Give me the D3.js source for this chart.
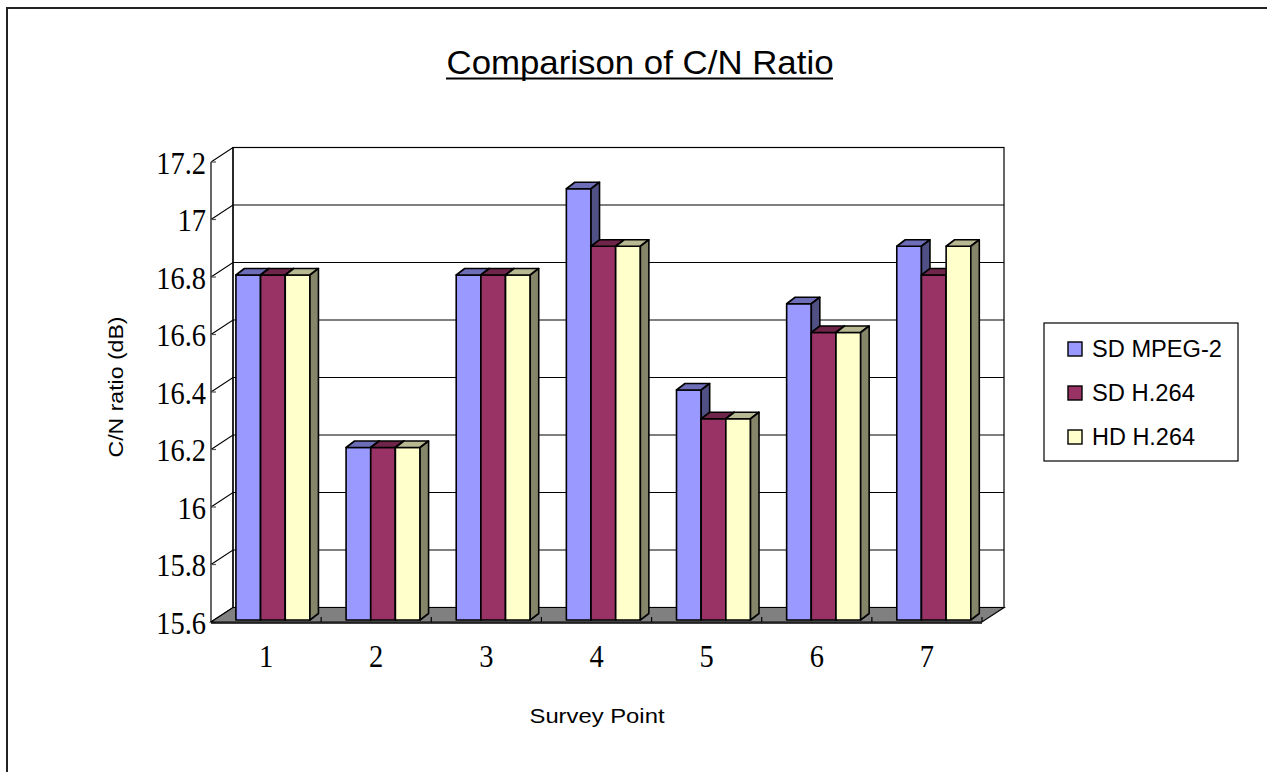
<!DOCTYPE html>
<html>
<head>
<meta charset="utf-8">
<script src="https://cdn.jsdelivr.net/npm/d3@7"></script>
<style>
  html, body { margin: 0; padding: 0; background: #fff; }
  svg { display: block; }
</style>
</head>
<body>
<svg id="chart" width="1267" height="772"></svg>
<script>
// Survey data: C/N ratio (dB) per survey point for each encoding
const categories = ["1", "2", "3", "4", "5", "6", "7"];
const seriesNames = ["SD MPEG-2", "SD H.264", "HD H.264"];
const sdMpeg2 = [16.8, 16.2, 16.8, 17.1, 16.4, 16.7, 16.9];
const sdH264  = [16.8, 16.2, 16.8, 16.9, 16.3, 16.6, 16.8];
const hdH264  = [16.8, 16.2, 16.8, 16.9, 16.3, 16.6, 16.9];
const yTickValues = [15.6, 15.8, 16, 16.2, 16.4, 16.6, 16.8, 17, 17.2];
const yTickLabels = ["15.6", "15.8", "16", "16.2", "16.4", "16.6", "16.8", "17", "17.2"];
const seriesColors = ["#9999FF", "#993366", "#FFFFCC"];

const seriesValues = [sdMpeg2, sdH264, hdH264];

const svg = d3.select("#chart");
const sans = "'Liberation Sans', Arial, sans-serif";
const serif = "'Liberation Serif', 'Times New Roman', serif";

// Narrow serif labels: tall glyphs squeezed horizontally
function condense(sel, k) {
  sel.each(function () {
    const w = this.getComputedTextLength();
    d3.select(this).attr("textLength", w * k).attr("lengthAdjust", "spacingAndGlyphs");
  });
}

// Outer chart-area frame (top and left edges)
svg.append("path")
  .attr("d", "M7,772 L7,8 L1267,8")
  .attr("fill", "none").attr("stroke", "#222").attr("stroke-width", 2);

// Title
svg.append("text")
  .attr("x", 640).attr("y", 74)
  .attr("text-anchor", "middle")
  .attr("font-family", sans).attr("font-size", 33)
  .attr("textLength", 387).attr("lengthAdjust", "spacingAndGlyphs")
  .text("Comparison of C/N Ratio");
svg.append("line")
  .attr("x1", 446).attr("x2", 833).attr("y1", 78.5).attr("y2", 78.5)
  .attr("stroke", "#000").attr("stroke-width", 2);

// 3D projection: front plane plus a depth offset toward the back wall
const frontLeft = 211, frontRight = 982;
const depth = { x: 22, y: -14.5 };

const y = d3.scaleLinear().domain([15.6, 17.2]).range([622, 162]);
const x0 = d3.scaleBand().domain(categories).range([frontLeft, frontRight]);
const band = x0.bandwidth();
const groupOffset = band * 0.19;
const groupWidth = band * 0.672;
const x1 = d3.scaleBand().domain(seriesNames).range([0, groupWidth]);

const baseY = y(15.6), topY = y(17.2);
const pt = (px, py) => `${px},${py}`;

// Left side wall (white)
svg.append("polygon")
  .attr("points", [pt(frontLeft, topY), pt(frontLeft + depth.x, topY + depth.y),
                   pt(frontLeft + depth.x, baseY + depth.y), pt(frontLeft, baseY)].join(" "))
  .attr("fill", "#fff").attr("stroke", "none");

// Back wall
svg.append("rect")
  .attr("x", frontLeft + depth.x).attr("y", topY + depth.y)
  .attr("width", frontRight - frontLeft).attr("height", baseY - topY)
  .attr("fill", "#fff").attr("stroke", "#000").attr("stroke-width", 1.2);

// Gridlines: diagonal on side wall + horizontal across back wall
const grid = svg.append("g").attr("stroke", "#000").attr("stroke-width", 1.1).attr("fill", "none");
yTickValues.forEach(v => {
  const yy = y(v);
  grid.append("path")
    .attr("d", `M${frontLeft},${yy} L${frontLeft + depth.x},${yy + depth.y} L${frontRight + depth.x},${yy + depth.y}`);
});

// Front value axis line and tick marks
svg.append("line")
  .attr("x1", frontLeft).attr("x2", frontLeft).attr("y1", topY).attr("y2", baseY)
  .attr("stroke", "#000").attr("stroke-width", 1.2);
svg.append("line")
  .attr("x1", frontLeft + depth.x).attr("x2", frontLeft + depth.x)
  .attr("y1", topY + depth.y).attr("y2", baseY + depth.y)
  .attr("stroke", "#000").attr("stroke-width", 1.2);
svg.append("g").selectAll("line").data(yTickValues).join("line")
  .attr("x1", frontLeft).attr("x2", frontLeft + 5)
  .attr("y1", d => y(d)).attr("y2", d => y(d))
  .attr("stroke", "#555").attr("stroke-width", 1.2);

// Value tick labels
svg.append("g").selectAll("text").data(yTickValues).join("text")
  .attr("x", 206).attr("y", d => y(d) + 1)
  .attr("dy", "0.34em")
  .attr("text-anchor", "end")
  .attr("font-family", serif).attr("font-size", 32)
  .attr("fill", "#000")
  .text((d, i) => yTickLabels[i])
  .call(condense, 0.89);

// Floor
svg.append("polygon")
  .attr("points", [pt(frontLeft, baseY), pt(frontRight, baseY),
                   pt(frontRight + depth.x, baseY + depth.y), pt(frontLeft + depth.x, baseY + depth.y)].join(" "))
  .attr("fill", "#808080").attr("stroke", "#000").attr("stroke-width", 1.2);
svg.append("line")
  .attr("x1", frontLeft).attr("x2", frontRight).attr("y1", baseY + 1).attr("y2", baseY + 1)
  .attr("stroke", "#000").attr("stroke-width", 1.5);

// Category tick marks on the floor front edge
const catBounds = categories.map(c => x0(c)).concat([frontRight]);
svg.append("g").selectAll("line").data(catBounds.slice(1)).join("line")
  .attr("x1", d => d).attr("x2", d => d)
  .attr("y1", baseY).attr("y2", baseY - 5)
  .attr("stroke", "#000").attr("stroke-width", 1.2);

// Category labels
svg.append("g").selectAll("text").data(categories).join("text")
  .attr("x", d => x0(d) + band / 2).attr("y", 667)
  .attr("text-anchor", "middle")
  .attr("font-family", serif).attr("font-size", 32)
  .text(d => d)
  .call(condense, 0.89);

// Shade helper for top and side faces of each column
const shade = (c, k) => {
  const rgb = d3.rgb(c);
  return d3.rgb(rgb.r * k, rgb.g * k, rgb.b * k).formatHex();
};

// 3D columns
const barFront = { x: 4, y: -2 };
const barDepth = { x: 8.5, y: -6.5 };
const bars = svg.append("g").attr("stroke", "#000").attr("stroke-width", 1.6).attr("stroke-linejoin", "round");
categories.forEach((cat, ci) => {
  seriesNames.forEach((s, si) => {
    const v = seriesValues[si][ci];
    const color = seriesColors[si];
    const xl = x0(cat) + groupOffset + x1(s) + barFront.x;
    const xr = xl + x1.bandwidth();
    const yt = y(v) + barFront.y;
    const yb = baseY + barFront.y;
    const g = bars.append("g");
    g.append("polygon")
      .attr("points", [pt(xl, yt), pt(xr, yt), pt(xr, yb), pt(xl, yb)].join(" "))
      .attr("fill", color);
    g.append("polygon")
      .attr("points", [pt(xl, yt), pt(xl + barDepth.x, yt + barDepth.y),
                       pt(xr + barDepth.x, yt + barDepth.y), pt(xr, yt)].join(" "))
      .attr("fill", shade(color, 0.72));
    g.append("polygon")
      .attr("points", [pt(xr, yt), pt(xr + barDepth.x, yt + barDepth.y),
                       pt(xr + barDepth.x, yb + barDepth.y), pt(xr, yb)].join(" "))
      .attr("fill", shade(color, 0.52));
  });
});

// Axis titles
svg.append("text")
  .attr("transform", "translate(123,387) rotate(-90)")
  .attr("text-anchor", "middle")
  .attr("font-family", sans).attr("font-size", 21)
  .attr("textLength", 141).attr("lengthAdjust", "spacingAndGlyphs")
  .text("C/N ratio (dB)");
svg.append("text")
  .attr("x", 597).attr("y", 723)
  .attr("text-anchor", "middle")
  .attr("font-family", sans).attr("font-size", 21)
  .attr("textLength", 135).attr("lengthAdjust", "spacingAndGlyphs")
  .text("Survey Point");

// Legend
const legend = svg.append("g");
legend.append("rect")
  .attr("x", 1044).attr("y", 323).attr("width", 194).attr("height", 138)
  .attr("fill", "#fff").attr("stroke", "#000").attr("stroke-width", 1.2);
const legendRows = [349, 393, 437];
const legendWidths = [130, 103, 103];
seriesNames.forEach((s, i) => {
  legend.append("rect")
    .attr("x", 1068).attr("y", legendRows[i] - 7).attr("width", 14).attr("height", 14)
    .attr("fill", seriesColors[i]).attr("stroke", "#000").attr("stroke-width", 1.4);
  legend.append("text")
    .attr("x", 1092).attr("y", legendRows[i])
    .attr("dy", "0.36em")
    .attr("font-family", sans).attr("font-size", 23)
    .attr("textLength", legendWidths[i]).attr("lengthAdjust", "spacingAndGlyphs")
    .text(s);
});
</script>
</body>
</html>
